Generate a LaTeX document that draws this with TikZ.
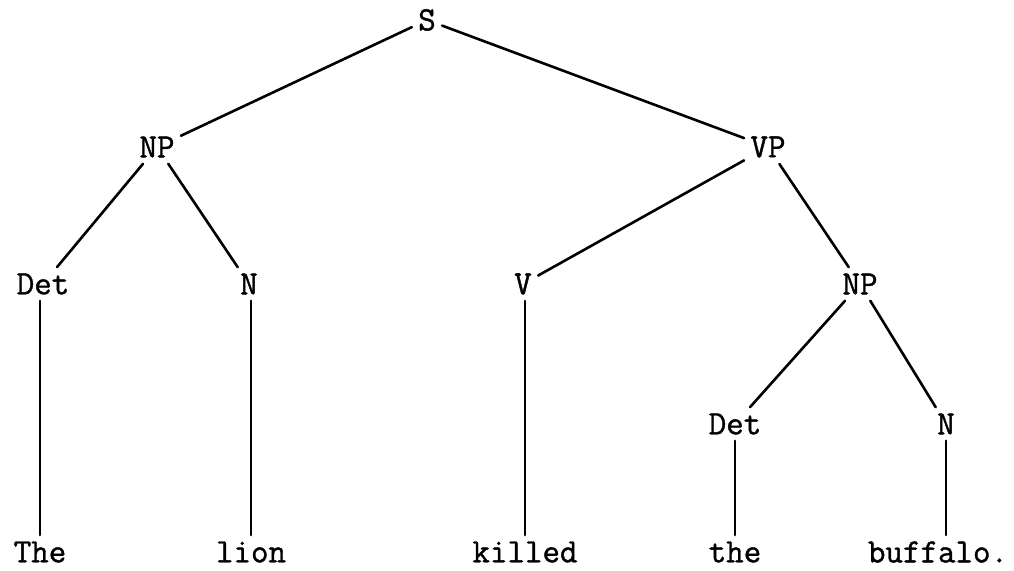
\documentclass[tikz,border=0pt]{standalone}
\usepackage{fontspec}
\setmonofont[FakeBold=1.2]{Latin Modern Mono}
\begin{document}
\begin{tikzpicture}[x=0.5pt,y=-0.5pt,
  lab/.style={font=\ttfamily\fontsize{17}{18}\selectfont, inner sep=3pt, anchor=center},
  branch/.style={line width=1.3pt, line cap=round}]
\useasboundingbox (0,0) rectangle (1014,571);
% phrase-level labels
\node[lab] (S)   at (427,20)  {S};
\node[lab] (NP)  at (157,147) {NP};
\node[lab] (VP)  at (768,147) {VP};
\node[lab] (Det) at (43,284)  {Det};
\node[lab] (N)   at (249,284) {N};
\node[lab] (V)   at (523,284) {V};
\node[lab] (NPb) at (860,284) {NP};
\node[lab] (Detb) at (735,424) {Det};
\node[lab] (Nb)  at (946,424) {N};
% words
\node[lab] (w1) at (40,552)  {The};
\node[lab] (w2) at (251,552) {lion};
\node[lab] (w3) at (525,552) {killed};
\node[lab] (w4) at (735,552) {the};
\node[lab] (w5) at (938,552) {buffalo.};
% branches
\draw[branch] (S) -- (NP);
\draw[branch] (S) -- (VP);
\draw[branch] (NP) -- (Det);
\draw[branch] (NP) -- (N);
\draw[branch] (VP) -- (V);
\draw[branch] (VP) -- (NPb);
\draw[branch] (NPb) -- (Detb);
\draw[branch] (NPb) -- (Nb);
\draw[branch] (w1.north |- Det.south) -- (w1.north);
\draw[branch] (w2.north |- N.south) -- (w2.north);
\draw[branch] (w3.north |- V.south) -- (w3.north);
\draw[branch] (w4.north |- Detb.south) -- (w4.north);
\draw[branch] (Nb.south) -- (Nb.south |- w5.north);
\end{tikzpicture}
\end{document}
